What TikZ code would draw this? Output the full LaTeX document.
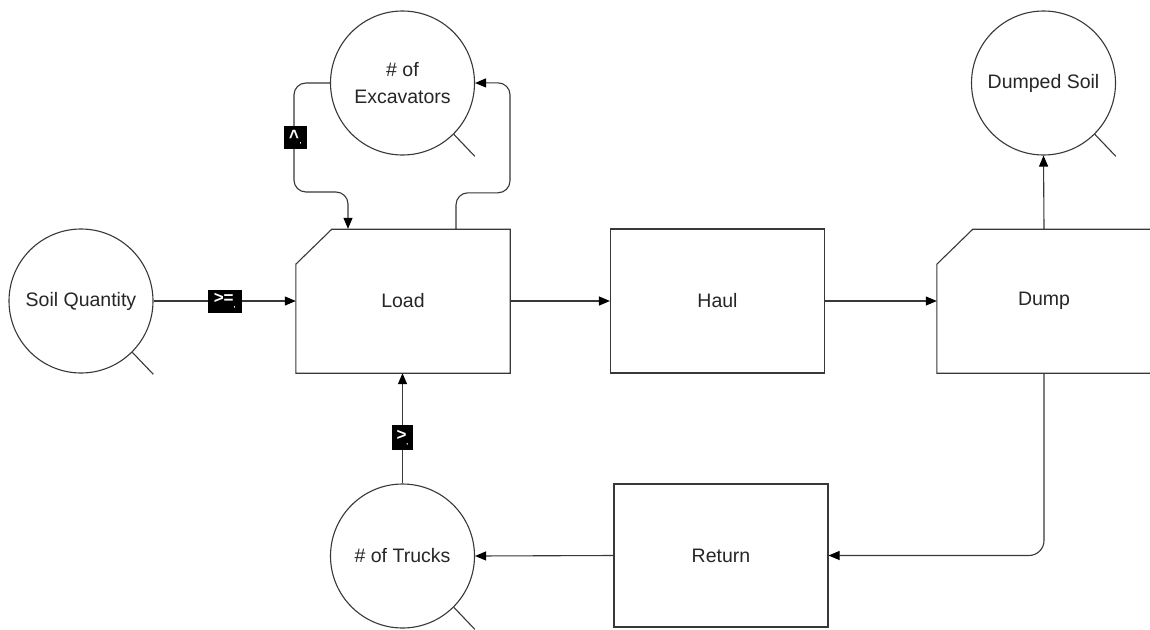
\documentclass[tikz,border=0pt]{standalone}
\usepackage{fontspec}
\setmainfont{Liberation Sans}
\usetikzlibrary{arrows.meta}
\begin{document}
\begin{tikzpicture}[x=1pt,y=-1pt,
  ln/.style={line width=1.1pt, draw=black!78},
  arr/.style={ln,-{Triangle[length=11pt,width=9pt,color=black]}},
  lbl/.style={text=black!85, font=\fontsize{19.5}{23}\selectfont},
  box/.style={lbl, minimum width=214pt, minimum height=144pt, inner sep=0pt},
  res/.style={lbl, circle, ln, minimum size=144pt, inner sep=0pt, align=center},
  tag/.style={fill=black, text=white, inner sep=0pt, font=\fontsize{17}{17}\selectfont\bfseries}
]
\fill[white] (0,0) rectangle (1150,629);
\useasboundingbox (0,0) rectangle (1150,629);
\clip (0,0) rectangle (1150,629);

% process boxes
\node[box] (load) at (403,301) {Load};
\node[box, draw=black!78, line width=1.1pt] (haul) at (717.5,301) {Haul};
\node[box] (dump) at (1044,301) {Dump};
\node[box, draw=black!78, line width=1.1pt, minimum height=143pt] (ret) at (721,555.5) {Return};

\draw[ln] (load.south west) -- ++(0,-109) -- ++(36,-35) -| (load.south east) -- cycle;
\draw[ln] (dump.south west) -- ++(0,-109) -- ++(36,-35) -| (dump.south east) -- cycle;

% resources
\node[res] (soil) at (81,301) {Soil Quantity};
\node[res] (exc) at (402.5,83) {\# of\\[4pt]Excavators};
\node[res] (dumped) at (1043.5,83) {Dumped Soil};
\node[res] (trucks) at (402.5,556) {\# of Trucks};

\foreach \r in {soil,exc,dumped,trucks}
  \draw[ln] (\r.-45) -- ++(21,22);

% coordinates on Load top
\coordinate (lin) at ([xshift=-55pt]load.north);
\coordinate (lout) at ([xshift=53pt]load.north);

% connectors
\draw[arr] (soil.east) -- node[tag, minimum width=34pt, minimum height=23pt]{>=\raisebox{-4pt}{\scriptsize,}} (load.west);

\draw[arr, rounded corners=12pt] (exc.west) -- ++(-36,0) -- ++(0,109) -| (lin);
\node[tag, minimum width=23pt, minimum height=23pt] (t2) at (295.5,137.5) {\rotatebox{90}{>}\raisebox{-4pt}{\scriptsize,}};

\draw[arr, rounded corners=12pt] (lout) -- ++(0,-36) -- ++(54,0) -- ++(0,-110) -- (exc.east);

\draw[arr] (load.east) -- (haul.west);
\draw[arr] (haul.east) -- (dump.west);
\draw[arr] (dump.north) -- (dumped.south);
\draw[arr, rounded corners=15pt] (dump.south) |- (ret.east);
\draw[arr] (ret.west) -- (trucks.east);

\draw[arr] (trucks.north) -- (trucks.north |- load.south);
\node[tag, minimum width=21pt, minimum height=25pt] (t3) at (402.5,437.5) {>\raisebox{-4pt}{\scriptsize,}};
\end{tikzpicture}
\end{document}
